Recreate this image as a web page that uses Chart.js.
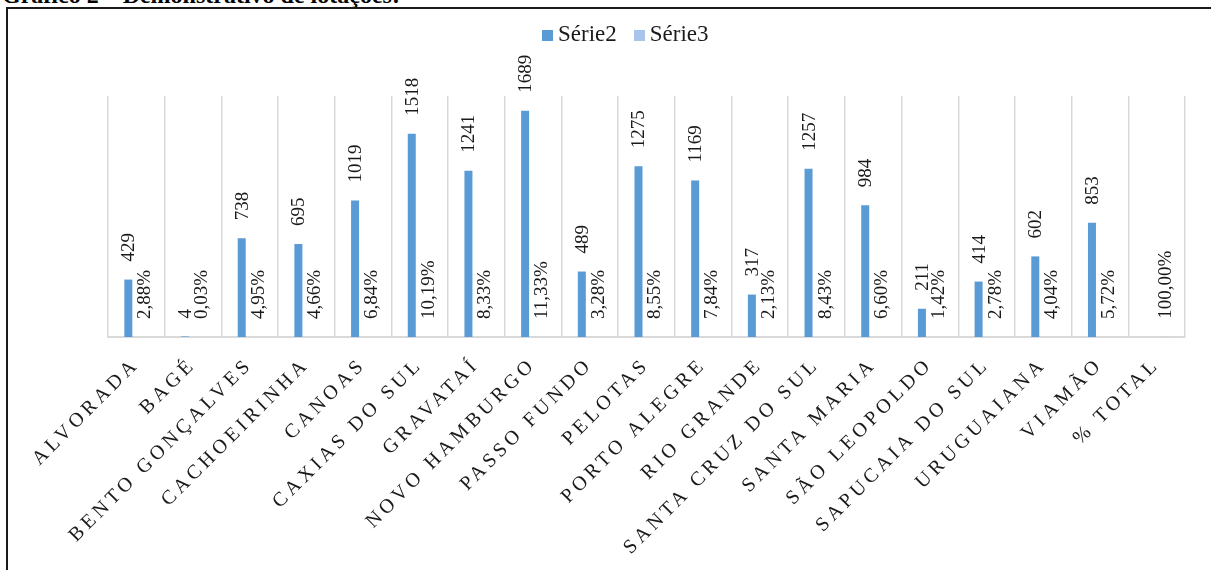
<html>
<head>
    <title>Demonstrativo de lotações</title>
    <script src="https://cdn.jsdelivr.net/npm/chart.js@4.4.1/dist/chart.umd.min.js"></script>
    <style>
        body { margin: 0; background: #fff; overflow: hidden; }
        #titulo {
            position: absolute; left: 2px; top: -17px; margin: 0;
            font: bold 24px "Liberation Serif", serif; line-height: 24px; color: #000;
            white-space: nowrap;
        }
        #moldura {
            position: absolute; left: 6px; top: 7px; width: 1300px; height: 700px;
            border: 2px solid #1a1a1a;
        }
        #legenda {
            position: absolute; top: 21px; left: 542px; height: 24px;
            font: 23px "Liberation Serif", serif; color: #1a1a1a; white-space: nowrap;
        }
        #legenda span.box { display: inline-block; width: 11px; height: 11px; margin-right: 5px; }
        #legenda span.item { margin-right: 17px; }
        #wrap { position: absolute; left: 0; top: 0; width: 1211px; height: 570px; }
    </style>
</head>
<body>
<h4 id="titulo">Gráfico 2 – Demonstrativo de lotações:</h4>
<div id="moldura"></div>
<div id="wrap"><canvas id="lotacoes"></canvas></div>
<div id="legenda"></div>

<script>
  const cidades = ['ALVORADA', 'BAGÉ', 'BENTO GONÇALVES', 'CACHOEIRINHA', 'CANOAS', 'CAXIAS DO SUL',
    'GRAVATAÍ', 'NOVO HAMBURGO', 'PASSO FUNDO', 'PELOTAS', 'PORTO ALEGRE', 'RIO GRANDE',
    'SANTA CRUZ DO SUL', 'SANTA MARIA', 'SÃO LEOPOLDO', 'SAPUCAIA DO SUL', 'URUGUAIANA',
    'VIAMÃO', '% TOTAL']

  // Série2: número de lotações por cidade
  const serie2 = [429, 4, 738, 695, 1019, 1518, 1241, 1689, 489, 1275, 1169, 317, 1257, 984,
    211, 414, 602, 853, null]

  // Série3: participação no total (fração)
  const serie3 = [0.0288, 0.0003, 0.0495, 0.0466, 0.0684, 0.1019, 0.0833, 0.1133, 0.0328,
    0.0855, 0.0784, 0.0213, 0.0843, 0.0660, 0.0142, 0.0278, 0.0404, 0.0572, 1.0]

  const nomesSeries = ['Série2', 'Série3']
  const coresSeries = ['#5b9bd5', '#a9c4eb']

  function fmtPct(v) {
    return (v * 100).toFixed(2).replace('.', ',') + '%'
  }

  // legenda em html
  let leg = document.getElementById('legenda')
  nomesSeries.forEach(function (nome, i) {
    let item = document.createElement('span')
    item.className = 'item'
    item.innerHTML = '<span class="box" style="background:' + coresSeries[i] + '"></span>' + nome
    leg.appendChild(item)
  })

  // rótulos de valor girados sobre as barras
  const rotulos = {
    id: 'rotulos',
    afterDatasetsDraw(chart) {
      let ctx = chart.ctx
      chart.data.datasets.forEach(function (ds, di) {
        let meta = chart.getDatasetMeta(di)
        meta.data.forEach(function (bar, i) {
          let v = ds.data[i]
          if (v === null || v === undefined) return
          let txt = di === 0 ? String(v) : fmtPct(v)
          ctx.save()
          ctx.letterSpacing = '0px'
          ctx.font = '19px "Liberation Serif"'
          ctx.fillStyle = '#1a1a1a'
          ctx.translate(bar.x, bar.y - 18)
          ctx.rotate(-Math.PI / 2)
          ctx.textAlign = 'left'
          ctx.textBaseline = 'middle'
          ctx.fillText(txt, 0, 1)
          ctx.restore()
        })
      })
    }
  }

  // espaçamento entre letras dos nomes das cidades
  const espacamento = {
    id: 'espacamento',
    beforeDraw(chart) {
      let sx = chart.scales.x
      if (sx._espacado) return
      let orig = sx.drawLabels
      sx.drawLabels = function (area) {
        chart.ctx.save()
        chart.ctx.letterSpacing = '4px'
        orig.call(this, area)
        chart.ctx.restore()
      }
      sx._espacado = true
    }
  }

  Chart.defaults.font.family = '"Liberation Serif", serif'

  new Chart(document.getElementById('lotacoes'), {
    type: 'bar',
    data: {
      labels: cidades,
      datasets: [
        { label: nomesSeries[0], data: serie2, backgroundColor: coresSeries[0], categoryPercentage: 0.565, barPercentage: 0.5 },
        { label: nomesSeries[1], data: serie3, backgroundColor: coresSeries[1], categoryPercentage: 0.565, barPercentage: 0.5 }
      ]
    },
    options: {
      responsive: true,
      maintainAspectRatio: false,
      animation: false,
      layout: { padding: { left: 108, right: 26, top: 96, bottom: 0 } },
      plugins: { legend: { display: false }, tooltip: { enabled: false } },
      scales: {
        x: {
          afterFit(scale) { scale.height = 233 },
          grid: { color: '#d9d9d9', lineWidth: 1.5, drawTicks: false, offset: true },
          border: { color: '#d9d9d9', width: 2 },
          ticks: {
            autoSkip: false, minRotation: 45, maxRotation: 45, padding: 16,
            color: '#1a1a1a', font: { size: 20 }
          }
        },
        y: { display: false, min: 0, max: 1800 }
      }
    },
    plugins: [rotulos, espacamento]
  })
</script>
</body>
</html>
